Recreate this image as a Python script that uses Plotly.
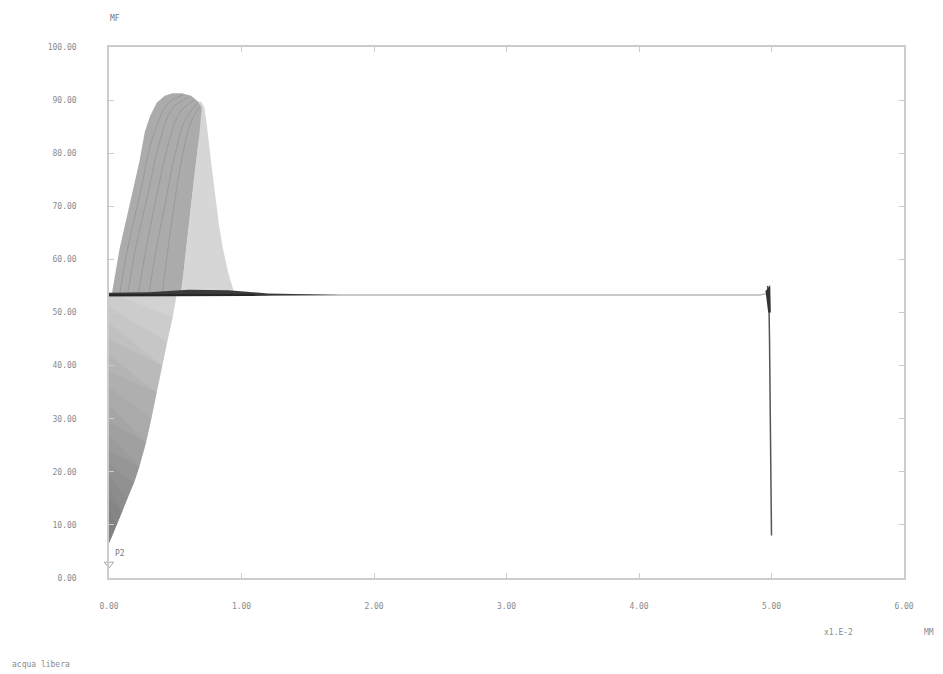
import plotly.graph_objects as go

# ---- data ----
y_ticks = [0, 10, 20, 30, 40, 50, 60, 70, 80, 90, 100]
y_tick_labels = ["0.00", "10.00", "20.00", "30.00", "40.00", "50.00",
                 "60.00", "70.00", "80.00", "90.00", "100.00"]
x_ticks = [0, 1, 2, 3, 4, 5, 6]
x_tick_labels = ["0.00", "1.00", "2.00", "3.00", "4.00", "5.00", "6.00"]

# right edge of the curve family below the plateau (bottom -> plateau)
edge_x = [0.0, 0.03, 0.06, 0.10, 0.14, 0.19, 0.23, 0.28, 0.32, 0.36, 0.40, 0.44, 0.48, 0.51]
edge_y = [6.5, 8.2, 10.0, 12.5, 15.0, 18.0, 21.0, 25.5, 30.0, 35.0, 40.0, 44.5, 49.0, 53.3]
# heights where the darker shading layers end, and their extra height at x = 0
shade_top = [50.0, 47.0, 44.0, 41.0, 38.0, 35.0, 32.0, 29.0, 26.0, 23.5, 21.0,
             18.5, 16.5, 14.5, 12.5, 11.0]
shade_lift = [4.0, 4.0, 4.0, 4.0, 4.0, 4.0, 4.0, 3.5, 3.5, 3.5, 3.0,
              3.0, 3.0, 2.5, 2.5, 2.0]

# dense (rising) part of the family above the plateau
upper_x = [0.02, 0.05, 0.08, 0.13, 0.18, 0.23, 0.27, 0.31, 0.36, 0.42, 0.48, 0.55,
           0.62, 0.67, 0.70, 0.68, 0.65, 0.62, 0.59, 0.56, 0.54]
upper_y = [53.3, 57.5, 62.0, 67.5, 73.0, 78.5, 84.0, 87.0, 89.5, 90.8, 91.3, 91.3,
           90.8, 89.8, 88.5, 83.0, 77.0, 70.0, 63.0, 57.0, 53.3]

# light (falling) part of the family
fall_x = [0.67, 0.70, 0.72, 0.74, 0.77, 0.80, 0.83, 0.86, 0.90, 0.95,
          0.54, 0.56, 0.59, 0.62, 0.65, 0.68]
fall_y = [89.8, 89.6, 88.5, 85.0, 78.5, 72.0, 66.5, 62.0, 57.5, 53.3,
          53.3, 57.0, 63.0, 70.0, 77.0, 83.0]

# a few individual curves visible inside the dense part
strand_x = [
    [0.08, 0.14, 0.24, 0.33, 0.45, 0.56],
    [0.14, 0.20, 0.30, 0.38, 0.48, 0.60],
    [0.22, 0.28, 0.36, 0.44, 0.53, 0.64],
    [0.30, 0.35, 0.42, 0.50, 0.57, 0.67],
    [0.40, 0.44, 0.49, 0.55, 0.62, 0.69],
]
strand_y = [
    [53.3, 62.0, 73.0, 83.0, 89.5, 91.0],
    [53.3, 62.0, 73.0, 82.0, 88.5, 90.5],
    [53.3, 62.0, 72.0, 81.0, 87.5, 90.0],
    [53.3, 61.0, 70.0, 80.0, 86.0, 89.5],
    [53.3, 61.0, 70.0, 79.0, 86.0, 89.0],
]

# plateau and the dark ripple on it
plateau_x = [0.0, 4.91, 4.96, 4.99]
plateau_y = [53.3, 53.3, 53.5, 54.5]
ripple_x = [0.0, 0.30, 0.55, 0.75, 0.90, 1.05, 1.25, 1.50, 1.75, 1.50, 1.20, 0.90, 0.60, 0.30, 0.0]
ripple_y = [53.0, 53.0, 53.0, 53.0, 53.0, 53.1, 53.2, 53.25, 53.3, 53.45, 53.6, 54.2, 54.3, 53.8, 53.7]

# final drop at x = 5
drop_x = [4.97, 4.98, 4.985, 4.99, 5.0, 5.0]
drop_y = [55.0, 53.0, 45.0, 30.0, 15.0, 8.0]
drop_head_x = [4.955, 4.99, 4.995, 4.975]
drop_head_y = [54.0, 55.2, 50.0, 50.0]

p2_x = [0.0]
p2_y = [2.6]

fig = go.Figure()


def poly(xs, ys, color):
    fig.add_trace(go.Scatter(x=xs, y=ys, mode="lines", fill="toself",
                             fillcolor=color, line=dict(width=0, color=color),
                             hoverinfo="skip", showlegend=False))


# lower part: base fill plus stacked translucent layers getting darker downwards
poly([0.0] + edge_x, [53.3] + edge_y, "#d2d2d2")
for top, lift in zip(shade_top, shade_lift):
    xs = [ex for ex, ey in zip(edge_x, edge_y) if ey <= top]
    ys = [ey for ey in edge_y if ey <= top]
    poly(xs + [0.0], ys + [top + lift], "rgba(0,0,0,0.028)")

poly(fall_x, fall_y, "#d6d6d6")
poly(upper_x, upper_y, "#ababab")

for sx, sy in zip(strand_x, strand_y):
    fig.add_trace(go.Scatter(x=sx, y=sy, mode="lines", line=dict(color="#8e8e8e", width=1),
                             line_shape="spline", opacity=0.6,
                             hoverinfo="skip", showlegend=False))

fig.add_trace(go.Scatter(x=plateau_x, y=plateau_y, mode="lines",
                         line=dict(color="#b8b8b8", width=1.5),
                         hoverinfo="skip", showlegend=False))
poly(ripple_x, ripple_y, "#3a3a3a")
fig.add_trace(go.Scatter(x=[0.0, 1.1], y=[53.3, 53.3], mode="lines",
                         line=dict(color="#222222", width=1.5),
                         hoverinfo="skip", showlegend=False))

fig.add_trace(go.Scatter(x=drop_x, y=drop_y, mode="lines",
                         line=dict(color="#555555", width=1.5),
                         hoverinfo="skip", showlegend=False))
poly(drop_head_x, drop_head_y, "#333333")

fig.add_trace(go.Scatter(x=p2_x, y=p2_y, mode="markers+text", text=["P2"],
                         textposition="top right",
                         textfont=dict(family="DejaVu Sans Mono", size=8, color="#777777"),
                         marker=dict(symbol="triangle-down-open", size=8,
                                     color="#aaaaaa", line=dict(width=1)),
                         cliponaxis=False, hoverinfo="skip", showlegend=False))

axis_font = dict(family="DejaVu Sans Mono", size=8, color="#8a8a8a")

fig.update_layout(
    width=943, height=674,
    margin=dict(l=109, r=39, t=47, b=96, autoexpand=False),
    paper_bgcolor="white", plot_bgcolor="white",
    showlegend=False,
    xaxis=dict(range=[0, 6], tickvals=x_ticks, ticktext=x_tick_labels,
               showgrid=False, zeroline=False, showline=True, mirror="ticks",
               linecolor="#cccccc", linewidth=1.5, ticks="inside", ticklen=5,
               tickcolor="#cccccc", tickfont=axis_font, ticklabelstandoff=20),
    yaxis=dict(range=[0, 100], tickvals=y_ticks, ticktext=y_tick_labels,
               showgrid=False, zeroline=False, showline=True, mirror="ticks",
               linecolor="#cccccc", linewidth=1.5, ticks="inside", ticklen=5,
               tickcolor="#cccccc", tickfont=axis_font, ticklabelstandoff=29),
    annotations=[
        dict(text="MF", xref="paper", yref="paper", x=-0.001, y=1.066,
             showarrow=False, font=dict(family="DejaVu Sans Mono", size=8, color="#777777")),
        dict(text="x1.E-2", xref="paper", yref="paper", x=0.938, y=-0.115,
             showarrow=False, font=axis_font),
        dict(text="MM", xref="paper", yref="paper", x=1.040, y=-0.115,
             showarrow=False, font=axis_font),
        dict(text="acqua libera", xref="paper", yref="paper", x=-0.1245, y=-0.175,
             xanchor="left", showarrow=False, font=axis_font),
    ],
)

fig.write_html("out.html", config={"displayModeBar": False},
               post_script="document.body.style.margin='0';document.body.style.overflow='hidden';")
